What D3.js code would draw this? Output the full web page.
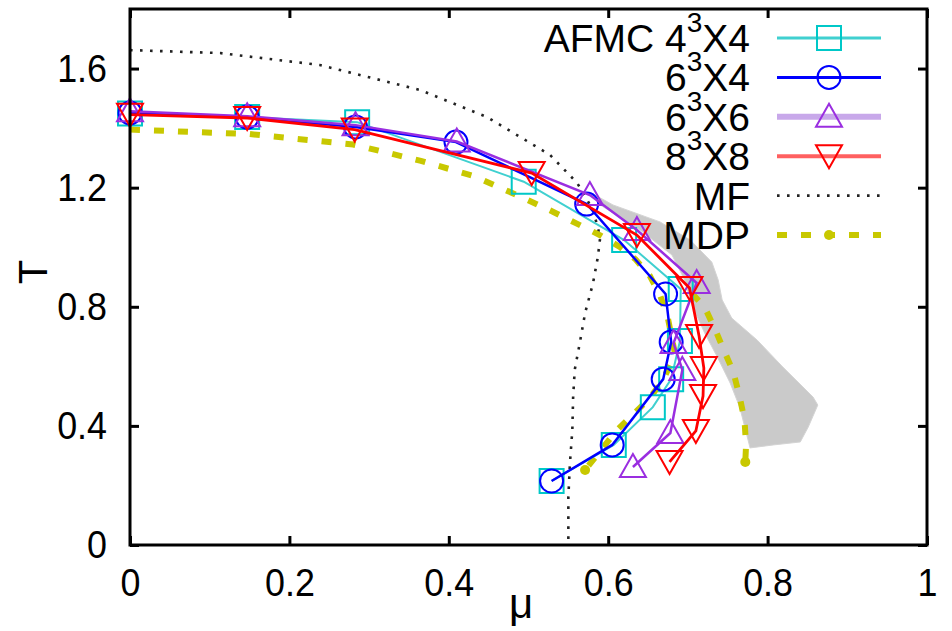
<!DOCTYPE html>
<html><head><meta charset="utf-8">
<script src="https://cdn.jsdelivr.net/npm/d3@7"></script>
<style>body{margin:0;background:#fff}svg{display:block;font-family:"Liberation Sans",Arial,sans-serif}</style>
</head><body><svg id="c" width="952" height="631"></svg>
<script>
// ---- data ----
const xTicks = [0, 0.2, 0.4, 0.6, 0.8, 1];
const xTickLabels = ["0", "0.2", "0.4", "0.6", "0.8", "1"];
const yTicks = [0, 0.4, 0.8, 1.2, 1.6];
const yTickLabels = ["0", "0.4", "0.8", "1.2", "1.6"];

const muAFMC = [0, 0.147, 0.285, 0.494, 0.620, 0.691, 0.690, 0.679, 0.656, 0.607, 0.529];
const tAFMC  = [1.449, 1.437, 1.420, 1.220, 1.024, 0.860, 0.685, 0.557, 0.463, 0.336, 0.215];

const mu6x4 = [0, 0.147, 0.283, 0.409, 0.573, 0.672, 0.679, 0.669, 0.605, 0.529];
const t6x4  = [1.451, 1.437, 1.404, 1.353, 1.145, 0.843, 0.682, 0.557, 0.336, 0.215];

const mu6x6 = [0, 0.147, 0.283, 0.410, 0.577, 0.636, 0.711, 0.682, 0.693, 0.678, 0.631];
const t6x6  = [1.457, 1.440, 1.410, 1.355, 1.175, 1.058, 0.880, 0.678, 0.588, 0.376, 0.262];

const mu8x8 = [0, 0.147, 0.282, 0.504, 0.636, 0.702, 0.714, 0.720, 0.719, 0.710, 0.677];
const t8x8  = [1.445, 1.434, 1.395, 1.249, 1.041, 0.863, 0.702, 0.594, 0.500, 0.383, 0.279];

const muMF = [0, 0.113, 0.238, 0.364, 0.448, 0.527, 0.561, 0.581, 0.590, 0.587, 0.581, 0.571, 0.565, 0.558, 0.556, 0.555, 0.552, 0.550, 0.550];
const tMF  = [1.662, 1.652, 1.612, 1.528, 1.437, 1.310, 1.216, 1.125, 1.034, 0.967, 0.880, 0.779, 0.688, 0.588, 0.497, 0.386, 0.275, 0.161, 0];

const muMDPa = [0, 0.15, 0.28, 0.365, 0.43, 0.49, 0.53, 0.56, 0.59, 0.615, 0.634, 0.652, 0.665, 0.675, 0.684, 0.668, 0.650, 0.611, 0.571];
const tMDPa  = [1.395, 1.38, 1.345, 1.29, 1.24, 1.17, 1.12, 1.08, 1.04, 1.0, 0.96, 0.905, 0.84, 0.76, 0.64, 0.55, 0.487, 0.386, 0.252];
const muMDPb = [0.705, 0.721, 0.734, 0.745, 0.757, 0.765, 0.771, 0.773, 0.772];
const tMDPb  = [0.845, 0.799, 0.725, 0.655, 0.581, 0.497, 0.420, 0.336, 0.279];

const muBand = [0.577, 0.606, 0.665, 0.703, 0.730, 0.738, 0.743, 0.755, 0.787, 0.819, 0.857, 0.863,
                0.851, 0.841, 0.807, 0.778, 0.765, 0.753, 0.737, 0.721, 0.705, 0.696, 0.680, 0.640, 0.590];
const tBand  = [1.185, 1.142, 1.085, 1.024, 0.950, 0.890, 0.823, 0.762, 0.688, 0.598, 0.497, 0.470,
                0.396, 0.346, 0.336, 0.326, 0.463, 0.544, 0.631, 0.712, 0.806, 0.890, 0.974, 1.058, 1.142];

const legendBase = ["AFMC 4", "6", "6", "8", "MF", "MDP"];
const legendSup  = ["3", "3", "3", "3", "", ""];
const legendTail = ["X4", "X4", "X6", "X8", "", ""];

// ---- drawing ----
const svg = d3.select("#c");
const x = d3.scaleLinear().domain([0, 1]).range([130, 927]);
const y = d3.scaleLinear().domain([0, 1.8]).range([545, 9]);
const zip = (a, b) => a.map((v, i) => [v, b[i]]);
const line = d3.line().x(d => x(d[0])).y(d => y(d[1]));

const C = {cyan: "#00c8c8", cyanL: "#40d0d0", blue: "#0000ff", purple: "#9a2ee0", purpleL: "#c8a8ea", red: "#ff0000", mdp: "#c8c800"};

// gray band
svg.append("path").attr("d", line(zip(muBand, tBand)) + "Z").attr("fill", "#cacaca").attr("stroke", "#d4d4d4").attr("stroke-width", 1);

// MF
svg.append("path").attr("d", line(zip(muMF, tMF))).attr("fill", "none").attr("stroke", "#222")
  .attr("stroke-width", 2.6).attr("stroke-dasharray", "2.6,7.4");

// MDP
[[muMDPa, tMDPa], [muMDPb, tMDPb]].forEach(([m, t]) => {
  svg.append("path").attr("d", line(zip(m, t))).attr("fill", "none").attr("stroke", C.mdp)
    .attr("stroke-width", 6).attr("stroke-dasharray", "10,14");
  const last = [m[m.length - 1], t[t.length - 1]];
  svg.append("circle").attr("cx", x(last[0])).attr("cy", y(last[1])).attr("r", 5).attr("fill", C.mdp);
});

// marker shapes
const sq = "M-12,-12H12V12H-12Z";
const circ = "M11.5,0A11.5,11.5 0 1,1 -11.5,0A11.5,11.5 0 1,1 11.5,0Z";
const triUp = "M0,-13L13,10L-13,10Z";
const triDn = "M0,12L13,-11L-13,-11Z";

const series = [
  {m: muAFMC, t: tAFMC, lc: C.cyanL, lw: 2, mc: C.cyan, shape: sq},
  {m: mu6x4, t: t6x4, lc: C.blue, lw: 2.5, mc: C.blue, shape: circ},
  {m: mu6x6, t: t6x6, lc: C.purple, lw: 2.5, mc: C.purple, shape: triUp},
  {m: mu8x8, t: t8x8, lc: C.red, lw: 2.8, mc: C.red, shape: triDn},
];
series.forEach(s => {
  const pts = zip(s.m, s.t);
  svg.append("path").attr("d", line(pts)).attr("fill", "none").attr("stroke", s.lc).attr("stroke-width", s.lw);
  svg.append("g").selectAll("path").data(pts).join("path")
    .attr("transform", d => `translate(${x(d[0])},${y(d[1])})`)
    .attr("d", s.shape).attr("fill", "none").attr("stroke", s.mc).attr("stroke-width", 2);
});

// axes
const fs = 39, sx = 0.92;
const gx = svg.append("g").attr("transform", "translate(0,545)")
  .call(d3.axisBottom(x).tickValues(xTicks).tickFormat((d, i) => xTickLabels[i]).tickSize(-9).tickPadding(23));
const gy = svg.append("g").attr("transform", "translate(130,0)")
  .call(d3.axisLeft(y).tickValues(yTicks).tickFormat((d, i) => yTickLabels[i]).tickSize(-9).tickPadding(25));
const gt = svg.append("g").attr("transform", "translate(0,9)")
  .call(d3.axisTop(x).tickValues(xTicks).tickFormat("").tickSize(-9));
const gr = svg.append("g").attr("transform", "translate(927,0)")
  .call(d3.axisRight(y).tickValues(yTicks).tickFormat("").tickSize(-9));
[gx, gy, gt, gr].forEach(g => {
  g.select(".domain").remove();
  g.selectAll(".tick line").attr("stroke", "#000").attr("stroke-width", 3);
  g.selectAll(".tick text").attr("font-size", fs).attr("fill", "#000")
    .attr("font-family", '"Liberation Sans",Arial,sans-serif').attr("transform", `scale(${sx},1)`);
});
svg.append("rect").attr("x", x(0)).attr("y", y(1.8)).attr("width", x(1) - x(0)).attr("height", y(0) - y(1.8))
  .attr("fill", "none").attr("stroke", "#000").attr("stroke-width", 3);

// axis titles
svg.append("text").attr("transform", "translate(47,272) rotate(-90)").attr("text-anchor", "middle")
  .attr("font-size", 40).text("T");
svg.append("text").attr("x", 521).attr("y", 618).attr("text-anchor", "middle").attr("font-size", 42).text("μ");

// legend
const legY0 = 38, legDy = 39.4, txtR = 750, l0 = 777, l1 = 881, mx = 829;
const legStyles = [
  {lc: C.cyanL, lw: 3, mc: C.cyan, shape: sq},
  {lc: C.blue, lw: 3, mc: C.blue, shape: circ},
  {lc: C.purpleL, lw: 6, mc: C.purple, shape: triUp},
  {lc: "#ff6060", lw: 4, mc: C.red, shape: triDn},
  {lc: "#222", lw: 2.6, dash: "2.6,7.4"},
  {lc: C.mdp, lw: 6, dash: "10,14", dot: true},
];
legendBase.forEach((b, i) => {
  const cy = legY0 + i * legDy;
  const t = svg.append("text").attr("x", txtR).attr("y", cy + 14).attr("text-anchor", "end").attr("font-size", fs);
  t.append("tspan").text(b);
  if (legendSup[i]) {
    t.append("tspan").attr("font-size", 28).attr("dy", -20).text(legendSup[i]);
    t.append("tspan").attr("dy", 20).text(legendTail[i]);
  }
  const st = legStyles[i];
  svg.append("line").attr("x1", l0).attr("x2", l1).attr("y1", cy).attr("y2", cy)
    .attr("stroke", st.lc).attr("stroke-width", st.lw).attr("stroke-dasharray", st.dash || null);
  if (st.shape) svg.append("path").attr("transform", `translate(${mx},${cy})`).attr("d", st.shape)
    .attr("fill", "none").attr("stroke", st.mc).attr("stroke-width", 2);
  if (st.dot) svg.append("circle").attr("cx", mx).attr("cy", cy).attr("r", 5).attr("fill", C.mdp);
});
</script></body></html>
